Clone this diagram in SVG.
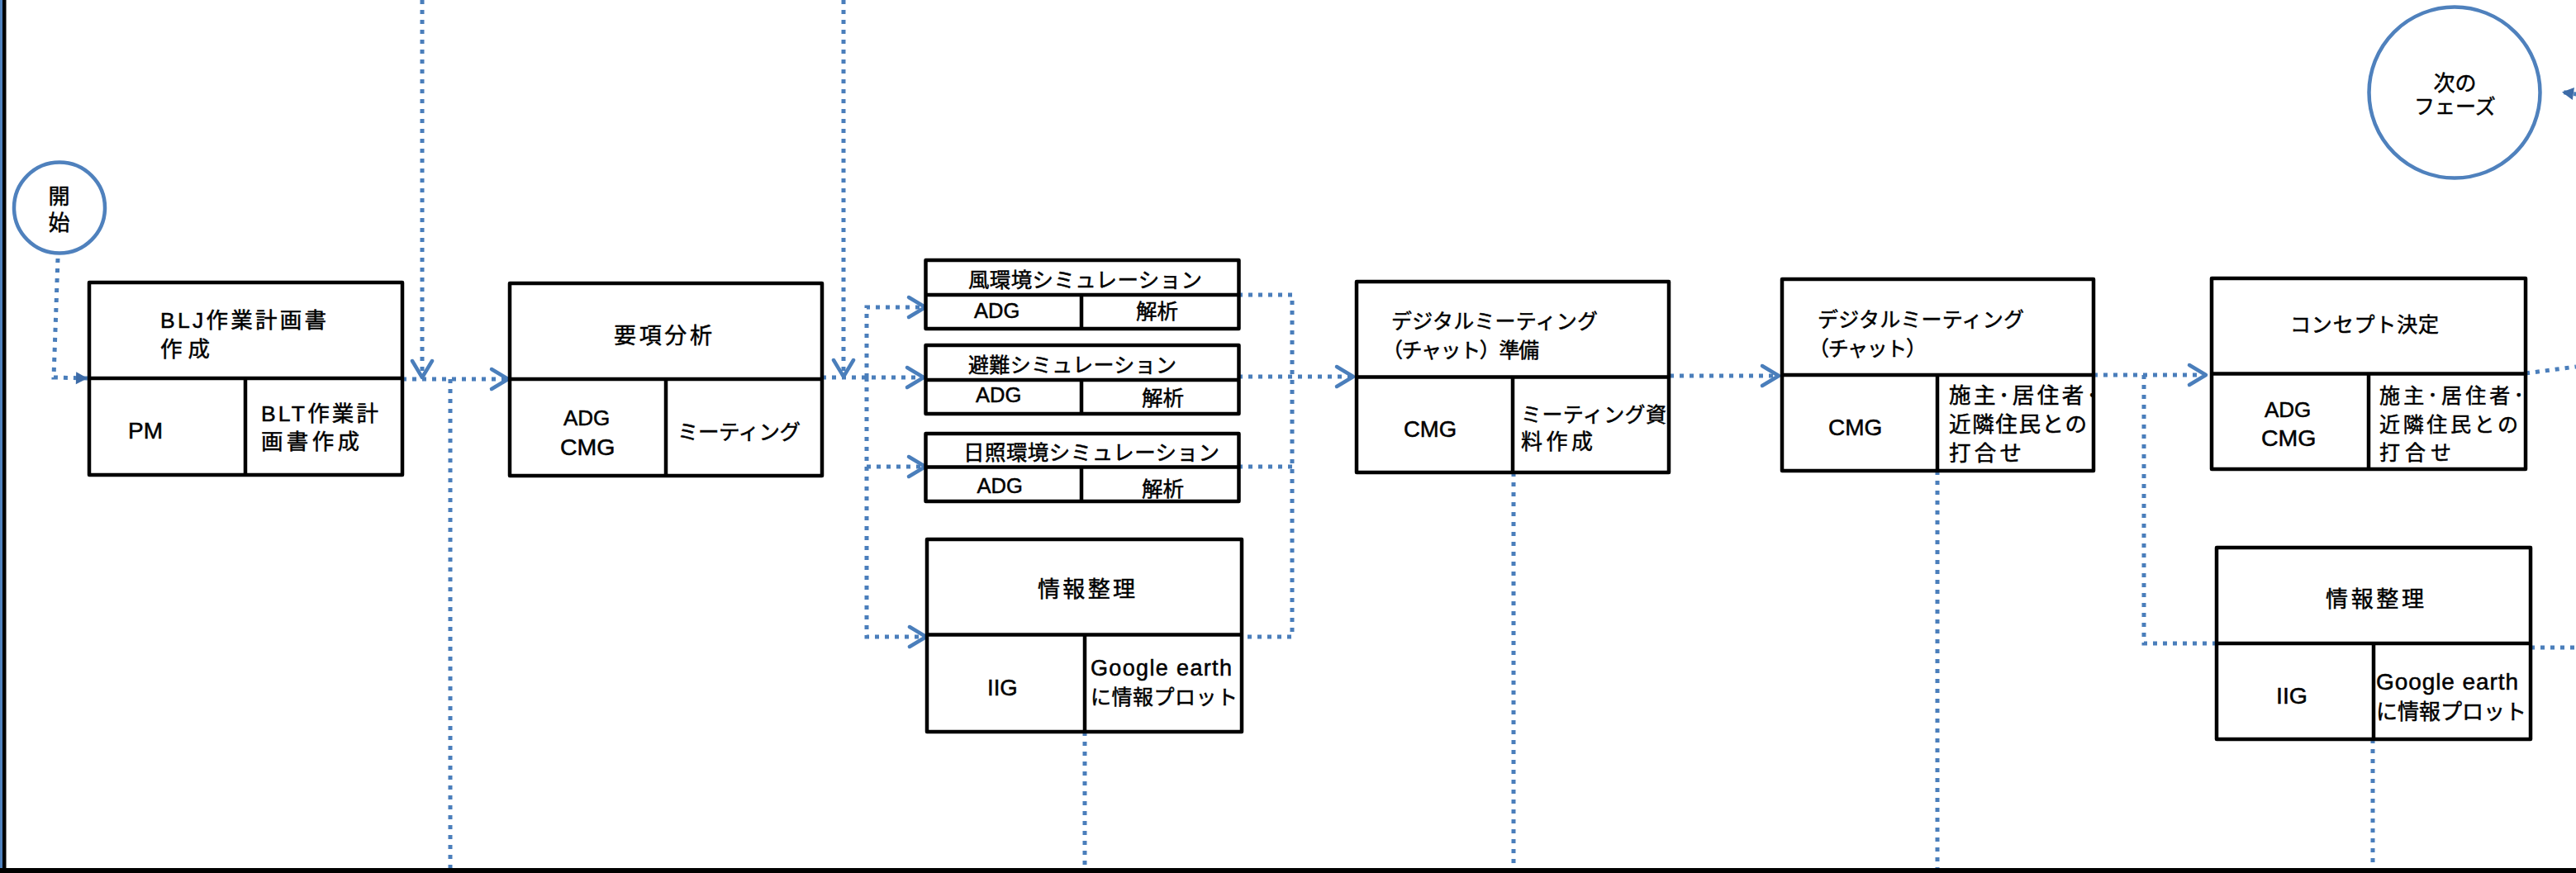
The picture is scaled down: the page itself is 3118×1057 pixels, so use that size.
<svg xmlns="http://www.w3.org/2000/svg" width="3118" height="1057" viewBox="0 0 3118 1057" font-size="26">
<style>
.bg{fill:#ffffff}
.box{fill:#ffffff;stroke:#000000;stroke-width:4.5;stroke-linejoin:round}
.dv{stroke:#000000;stroke-width:4.5;fill:none}
.circ{fill:#ffffff;stroke:#4F81BD;stroke-width:4.5}
.conn{fill:none;stroke:#4A7EBB;stroke-width:5;stroke-dasharray:5 7}
.ca{marker-end:url(#chev)}
.ta{marker-end:url(#tri)}
text{font-family:'Liberation Sans','Noto Sans CJK JP',sans-serif;fill:#000000;stroke:#000000;stroke-width:0.5px}
.m{text-anchor:middle}
</style>
<defs>
<marker id="chev" markerUnits="userSpaceOnUse" viewBox="-26 -16 32 32" refX="0" refY="0" markerWidth="32" markerHeight="32" orient="auto" overflow="visible">
<path d="M-20,-12 L0,0 L-20,12" fill="none" stroke="#4A7EBB" stroke-width="4.5" stroke-linecap="round" stroke-linejoin="round"/>
</marker>
<marker id="tri" markerUnits="userSpaceOnUse" viewBox="-16 -9 18 18" refX="0" refY="0" markerWidth="18" markerHeight="18" orient="auto" overflow="visible">
<path d="M-14,-7.5 L0,0 L-14,7.5 Z" fill="#3D6BA7"/>
</marker>
</defs>
<rect class="bg" x="0" y="0" width="3118" height="1057"/>
<!-- frame -->
<rect x="0" y="0" width="3" height="1057" fill="#4F81BD"/>
<rect x="3" y="0" width="4.5" height="1057" fill="#000000"/>
<rect x="0" y="1051" width="3118" height="6" fill="#000000"/>

<g id="connectors">
<path class="conn ta" d="M70,313 L65,457 L106,458"/>
<path class="conn ca" d="M511,0 L511,457"/>
<path class="conn ca" d="M487,459 L615,459"/>
<path class="conn" d="M545,459 L545,1051"/>
<path class="conn ca" d="M1021,0 L1021,456"/>
<path class="conn ca" d="M995,457 L1118,457"/>
<path class="conn ca" d="M1049,457 L1049,372 L1120,372"/>
<path class="conn ca" d="M1049,457 L1049,565 L1120,565"/>
<path class="conn ca" d="M1049,565 L1049,771 L1121,771"/>
<path class="conn" d="M1499,357 L1564,357 L1564,771 L1502,771"/>
<path class="conn" d="M1499,565 L1564,565"/>
<path class="conn ca" d="M1499,456 L1638,456"/>
<path class="conn" d="M1313,886 L1313,1051"/>
<path class="conn ca" d="M2021,455 L2153,455"/>
<path class="conn" d="M1832,572 L1832,1051"/>
<path class="conn ca" d="M2534,454 L2670,454"/>
<path class="conn" d="M2595,454 L2595,779 L2683,779"/>
<path class="conn" d="M2345,570 L2345,1051"/>
<path class="conn" d="M3057,452 L3118,444"/>
<path class="conn" d="M3063,784 L3118,784"/>
<path class="conn" d="M2872,895 L2872,1051"/>
<path class="conn ta" d="M3132,116 L3101,111.5"/>
</g>

<g id="start">
<circle class="circ" cx="72" cy="251.5" r="55"/>
<text class="m" x="71.5" y="247">開</text>
<text class="m" x="71.5" y="279">始</text>
</g>

<g id="next-phase">
<circle class="circ" cx="2971" cy="112" r="103.5"/>
<text class="m" x="2971.5" y="109.5">次の</text>
<text class="m" x="2971.5" y="138" font-size="25">フェーズ</text>
</g>

<g id="blj">
<rect class="box" x="108" y="342" width="379" height="233"/>
<path class="dv" d="M108,458 L487,458 M297,458 L297,575"/>
<text x="194" y="397" font-size="26.5" textLength="201">BLJ作業計画書</text>
<text x="194" y="432" font-size="26.5" textLength="60">作成</text>
<text x="155" y="530.5" font-size="28">PM</text>
<text x="316" y="510" font-size="26.5" textLength="142">BLT作業計</text>
<text x="316" y="544" font-size="26.5" textLength="119">画書作成</text>
</g>

<g id="yoko">
<rect class="box" x="617" y="343" width="378" height="233"/>
<path class="dv" d="M617,459 L995,459 M806,459 L806,576"/>
<text x="743" y="416" font-size="27" textLength="119">要項分析</text>
<text x="682" y="515">ADG</text>
<text x="678" y="550.5" font-size="28.5">CMG</text>
<text x="820" y="532" font-size="25.5" textLength="149">ミーティング</text>
</g>

<g id="wind">
<rect class="box" x="1120.5" y="315" width="379" height="83"/>
<path class="dv" d="M1120.5,357 L1499.5,357 M1309,357 L1309,398"/>
<text x="1172" y="348" font-size="25.5" textLength="283">風環境シミュレーション</text>
<text x="1179" y="385" font-size="25.5">ADG</text>
<text x="1375" y="386" font-size="25.5">解析</text>
</g>

<g id="evac">
<rect class="box" x="1120.5" y="418" width="379" height="83"/>
<path class="dv" d="M1120.5,460 L1499.5,460 M1309,460 L1309,501"/>
<text x="1172" y="451" font-size="25" textLength="252">避難シミュレーション</text>
<text x="1181" y="487" font-size="25.5">ADG</text>
<text x="1382" y="491" font-size="25.5">解析</text>
</g>

<g id="sun">
<rect class="box" x="1120.5" y="525" width="379" height="82"/>
<path class="dv" d="M1120.5,565.5 L1499.5,565.5 M1309,565.5 L1309,607"/>
<text x="1166" y="557" font-size="25.5" textLength="310">日照環境シミュレーション</text>
<text x="1182.5" y="597" font-size="25.5">ADG</text>
<text x="1382" y="601" font-size="25.5">解析</text>
</g>

<g id="info1">
<rect class="box" x="1122" y="653" width="381" height="233"/>
<path class="dv" d="M1122,768.5 L1503,768.5 M1313,768.5 L1313,886"/>
<text x="1256" y="723" font-size="27" textLength="118">情報整理</text>
<text x="1195" y="841.5" font-size="27.5">IIG</text>
<text x="1320" y="818" font-size="27" textLength="171">Google earth</text>
<text x="1320" y="853" font-size="25" textLength="178">に情報プロット</text>
</g>

<g id="dm-prep">
<rect class="box" x="1642" y="341" width="378" height="231"/>
<path class="dv" d="M1642,456.5 L2020,456.5 M1831,456.5 L1831,572"/>
<text x="1684" y="398" font-size="25" textLength="250">デジタルミーティング</text>
<text x="1673" y="433" font-size="25" textLength="190">（チャット）準備</text>
<text x="1699" y="529" font-size="27.5">CMG</text>
<text x="1841" y="511" font-size="25" textLength="176">ミーティング資</text>
<text x="1841" y="544" font-size="26" textLength="87">料作成</text>
</g>

<g id="dm-chat">
<rect class="box" x="2157" y="338" width="377" height="232"/>
<path class="dv" d="M2157,454 L2534,454 M2345,454 L2345,570"/>
<text x="2200" y="396" font-size="25" textLength="250">デジタルミーティング</text>
<text x="2189" y="431" font-size="25" textLength="143">（チャット）</text>
<text x="2213" y="527" font-size="28">CMG</text>
<text x="2359" y="488" font-size="26.5" textLength="180">施主･居住者･</text>
<text x="2359" y="523" font-size="26.5" textLength="167">近隣住民との</text>
<text x="2359" y="558" font-size="26.5" textLength="88">打合せ</text>
</g>

<g id="concept">
<rect class="box" x="2677" y="337" width="380" height="231"/>
<path class="dv" d="M2677,452.5 L3057,452.5 M2867,452.5 L2867,568"/>
<text x="2772" y="402" font-size="25" textLength="180">コンセプト決定</text>
<text x="2741" y="505">ADG</text>
<text x="2737" y="539.5" font-size="28.5">CMG</text>
<text x="2880" y="488" font-size="25" textLength="175">施主･居住者･</text>
<text x="2880" y="522.5" font-size="25" textLength="168">近隣住民との</text>
<text x="2880" y="557" font-size="25" textLength="87">打合せ</text>
</g>

<g id="info2">
<rect class="box" x="2683" y="663" width="380" height="232"/>
<path class="dv" d="M2683,779 L3063,779 M2873,779 L2873,895"/>
<text x="2815" y="735" font-size="27" textLength="119">情報整理</text>
<text x="2755" y="852" font-size="28.5">IIG</text>
<text x="2876" y="835" font-size="28" textLength="172">Google earth</text>
<text x="2876" y="871" font-size="26" textLength="182">に情報プロット</text>
</g>
</svg>
